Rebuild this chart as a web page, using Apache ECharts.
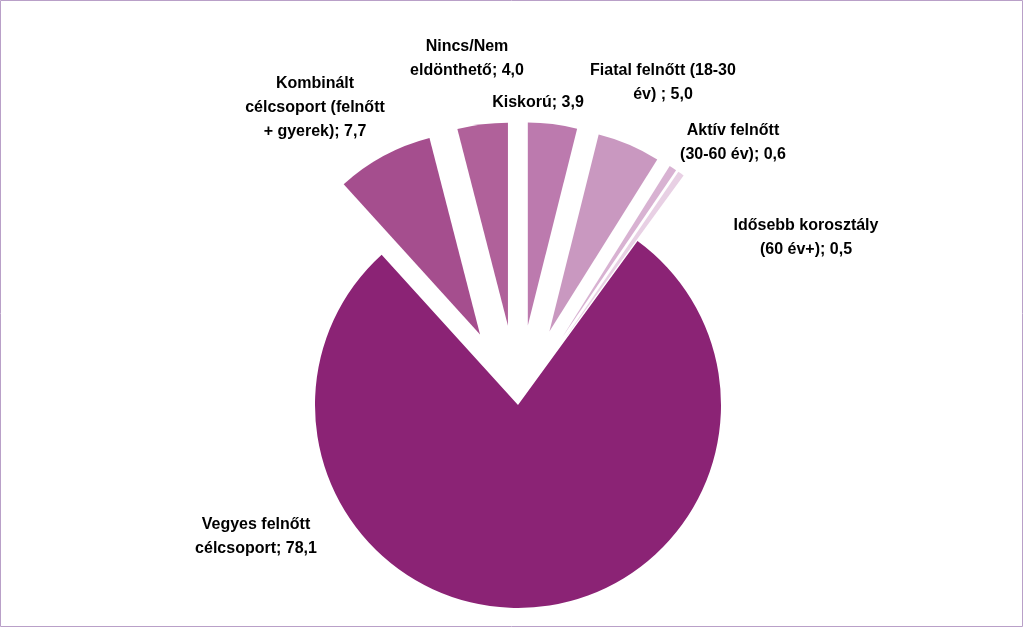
<!DOCTYPE html>
<html>
<head>
<meta charset="utf-8">
<script src="https://cdn.jsdelivr.net/npm/echarts@6/dist/echarts.min.js"></script>
<style>html,body{margin:0;padding:0;background:#fff}#chart{width:1024px;height:628px}</style>
</head>
<body>
<div id="chart"></div>
<script>
// data, clockwise from 12 o'clock
const names = ["Kiskorú", "Fiatal felnőtt (18-30 év)", "Aktív felnőtt (30-60 év)", "Idősebb korosztály (60 év+)", "Vegyes felnőtt célcsoport", "Kombinált célcsoport (felnőtt + gyerek)", "Nincs/Nem eldönthető"];
const values = [3.9, 5.0, 0.6, 0.5, 78.1, 7.7, 4.0];
const colors = ["#BC7AAE", "#C998C0", "#D8B2D2", "#E8D0E4", "#8B2375", "#A54E8E", "#B0619A"];
// label lines (name parts) per slice
const labelLines = [
  ["Kiskorú; {v}"],
  ["Fiatal felnőtt (18-30", "év) ; {v}"],
  ["Aktív felnőtt", "(30-60 év); {v}"],
  ["Idősebb korosztály", "(60 év+); {v}"],
  ["Vegyes felnőtt", "célcsoport; {v}"],
  ["Kombinált", "célcsoport (felnőtt", "+ gyerek); {v}"],
  ["Nincs/Nem", "eldönthető; {v}"]
];
const labelPos = [[538, 103], [663, 71], [733, 131], [806, 226], [256, 525], [315, 84], [467, 47]];

const fmt = v => v.toFixed(1).replace(".", ",");
const chart = echarts.init(document.getElementById("chart"));

const texts = labelLines.map((lines, i) => ({
  type: "text",
  x: labelPos[i][0],
  y: labelPos[i][1],
  style: {
    text: lines.join("\n").replace("{v}", fmt(values[i])),
    fill: "#000",
    font: "bold 16px 'Liberation Sans', Arial, sans-serif",
    lineHeight: 24,
    align: "center",
    verticalAlign: "top"
  }
}));
texts.forEach(t => { t.y -= 12; });

chart.setOption({
  animation: false,
  backgroundColor: "#fff",
  graphic: [{
    type: "rect",
    shape: { x: 0.5, y: 0.5, width: 1022, height: 626 },
    style: { fill: "none", stroke: "#B9A0C8", lineWidth: 1 }
  }].concat(texts),
  series: [{
    type: "pie",
    center: [518, 405],
    radius: 203,
    startAngle: 90,
    clockwise: true,
    selectedMode: "multiple",
    selectedOffset: 80,
    label: { show: false },
    labelLine: { show: false },
    emphasis: { disabled: true },
    data: names.map((n, i) => ({
      name: n,
      value: values[i],
      selected: i !== 4,
      itemStyle: { color: colors[i] }
    }))
  }]
});
</script>
</body>
</html>
